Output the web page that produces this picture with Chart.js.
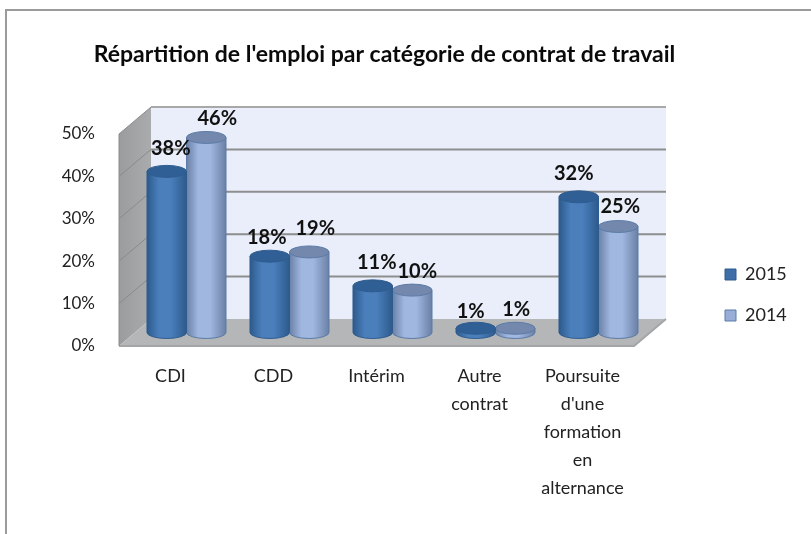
<!DOCTYPE html>
<html><head><meta charset="utf-8">
<style>html,body{margin:0;padding:0;background:#fff}canvas{display:block}</style>
<script src="https://cdn.jsdelivr.net/npm/chart.js@4"></script>
</head><body>
<div style="width:811px;height:534px"><canvas id="c" width="811" height="534"></canvas></div>
<script>
const categories = ['CDI','CDD','Intérim',['Autre','contrat'],['Poursuite',"d'une",'formation','en','alternance']];
const values2015 = [38,18,11,1,32];
const values2014 = [46,19,10,1,25];
const yTicks = [0,10,20,30,40,50];
const titleText = "Répartition de l'emploi par catégorie de contrat de travail";
const FONT = 'Lato, "Open Sans", sans-serif';
const DEPTH_X = 32, DEPTH_Y = 27, RY = 6;
const palette = {
  '2015': {edge:'#2d5a8c', mid:'#4a7fbc', top:'#2f5f95', line:'#2f5c8f'},
  '2014': {edge:'#6a80a6', mid:'#a0b7e0', top:'#7488ad', line:'#5b7ba6'}
};
function poly(ctx, pts, fill){ctx.beginPath();pts.forEach((p,i)=>i?ctx.lineTo(p[0],p[1]):ctx.moveTo(p[0],p[1]));ctx.closePath();ctx.fillStyle=fill;ctx.fill();}
const labelNudge = [
  [[4,-1],[-3,3],[4,-1],[-5,5],[-5,-1]],
  [[11,3],[6,-1],[5,3],[1,3],[2,2]]
];
const scene = {
  id:'scene',
  afterLayout(chart){
    const t=chart.titleBlock; t.left=0;t.right=769;
    const l=chart.legend; const lw=l.width,lh=l.height; l.left=702;l.right=702+lw;l.top=189;l.bottom=189+lh;
  },
  beforeDraw(chart){
    const ctx=chart.ctx; ctx.save();
    ctx.strokeStyle='#9b9b9b';ctx.lineWidth=2;
    ctx.beginPath();ctx.moveTo(6,534);ctx.lineTo(6,10);ctx.lineTo(811,10);ctx.stroke();
    ctx.restore();
  },
  beforeDatasetsDraw(chart){
    const ctx=chart.ctx,a=chart.chartArea,y=chart.scales.y;
    const L=a.left,R=a.right,T=a.top,B=a.bottom;
    ctx.save();
    poly(ctx,[[L+DEPTH_X,T-DEPTH_Y],[R+DEPTH_X,T-DEPTH_Y],[R+DEPTH_X,B-DEPTH_Y],[L+DEPTH_X,B-DEPTH_Y]],'#e9eefa');
    const g=ctx.createLinearGradient(L,0,L+DEPTH_X,0);g.addColorStop(0,'#9a9c9e');g.addColorStop(1,'#a9abad');
    poly(ctx,[[L,T],[L+DEPTH_X,T-DEPTH_Y],[L+DEPTH_X,B-DEPTH_Y],[L,B]],g);
    poly(ctx,[[L,B],[L+DEPTH_X,B-DEPTH_Y],[R+DEPTH_X,B-DEPTH_Y],[R,B]],'#b4b6b8');
    yTicks.forEach(v=>{
      const py=y.getPixelForValue(v);
      if(v>0){
        ctx.strokeStyle=v===50?'#a8a8a8':'#8e8e8e';ctx.lineWidth=2;
        ctx.beginPath();ctx.moveTo(L+DEPTH_X,py-DEPTH_Y);ctx.lineTo(R+DEPTH_X,py-DEPTH_Y);ctx.stroke();
        if(v<50){ctx.strokeStyle='#8a8a8a';ctx.lineWidth=1;ctx.beginPath();ctx.moveTo(L,py);ctx.lineTo(L+DEPTH_X,py-DEPTH_Y);ctx.stroke();}
      }
    });
    ctx.strokeStyle='#a3a5a7';ctx.lineWidth=2;
    ctx.beginPath();ctx.moveTo(L,B);ctx.lineTo(R,B);ctx.lineTo(R+DEPTH_X,B-DEPTH_Y);ctx.stroke();
    ctx.strokeStyle='#8c8c8c';ctx.lineWidth=1;
    ctx.beginPath();ctx.moveTo(L,B);ctx.lineTo(L,T);ctx.lineTo(L+DEPTH_X,T-DEPTH_Y);ctx.stroke();
    ctx.restore();
  },
  beforeDatasetDraw(chart,args){
    const ctx=chart.ctx,meta=args.meta,ds=chart.data.datasets[args.index],pal=palette[ds.label];
    ctx.save();
    meta.data.forEach(el=>{
      const p=el.getProps(['x','y','base','width'],true);
      const hw=p.width/2,cx=p.x+DEPTH_X/2,top=p.y-DEPTH_Y/2,bot=p.base-DEPTH_Y/2;
      const grad=ctx.createLinearGradient(cx-hw,0,cx+hw,0);
      grad.addColorStop(0,pal.edge);grad.addColorStop(.3,pal.mid);grad.addColorStop(.6,pal.mid);grad.addColorStop(1,pal.edge);
      ctx.beginPath();
      ctx.moveTo(cx-hw,top);
      ctx.lineTo(cx-hw,bot);
      ctx.ellipse(cx,bot,hw,RY,0,Math.PI,0,true);
      ctx.lineTo(cx+hw,top);
      ctx.closePath();
      ctx.fillStyle=grad;ctx.fill();
      ctx.strokeStyle=pal.line;ctx.lineWidth=1;ctx.stroke();
      ctx.beginPath();ctx.ellipse(cx,top,hw,RY,0,0,Math.PI*2);
      ctx.fillStyle=pal.top;ctx.fill();ctx.stroke();
    });
    ctx.restore();
    return false;
  },
  afterDatasetsDraw(chart){
    const ctx=chart.ctx;
    ctx.save();ctx.font='bold 20px '+FONT;ctx.fillStyle='#111';ctx.textAlign='center';ctx.textBaseline='middle';
    chart.data.datasets.forEach((ds,di)=>{
      chart.getDatasetMeta(di).data.forEach((el,i)=>{
        const n=labelNudge[di][i];
        ctx.fillText(ds.data[i]+'%',el.x+DEPTH_X/2+n[0],el.y-DEPTH_Y/2-22+n[1]);
      });
    });
    ctx.restore();
  }
};
Chart.defaults.font.family=FONT;
new Chart(document.getElementById('c'),{
  type:'bar',
  data:{labels:categories,datasets:[
    {label:'2015',data:values2015,backgroundColor:'#3f6fa8',borderColor:'#2f5c8f',borderWidth:1,categoryPercentage:.767,barPercentage:1},
    {label:'2014',data:values2014,backgroundColor:'#98aed6',borderColor:'#5b7ba6',borderWidth:1,categoryPercentage:.767,barPercentage:1}
  ]},
  plugins:[scene],
  options:{
    responsive:false,animation:false,
    layout:{padding:{left:0,right:177,top:0,bottom:0}},
    plugins:{
      tooltip:{enabled:false},
      title:{display:true,text:titleText,color:'#0a0a0a',font:{size:23,weight:'bold',family:FONT,lineHeight:1.2},padding:{top:41,bottom:65.4}},
      legend:{position:'chartArea',labels:{boxWidth:11,boxHeight:11,color:'#222',font:{size:18,family:FONT},padding:23}}
    },
    scales:{
      x:{grid:{display:false},border:{display:false},
        afterFit(s){s.height=188;},
        ticks:{color:'#222',font:{size:18,family:FONT,lineHeight:28/18},padding:8,autoSkip:false,maxRotation:0,minRotation:0}},
      y:{min:0,max:50,grid:{display:false},border:{display:false},
        afterFit(s){s.width=119;},
        afterBuildTicks(s){s.ticks=yTicks.map(v=>({value:v}));},
        ticks:{color:'#222',font:{size:17,family:FONT},padding:16,callback:v=>v+'%'}}
    }
  }
});
</script>
</body></html>
